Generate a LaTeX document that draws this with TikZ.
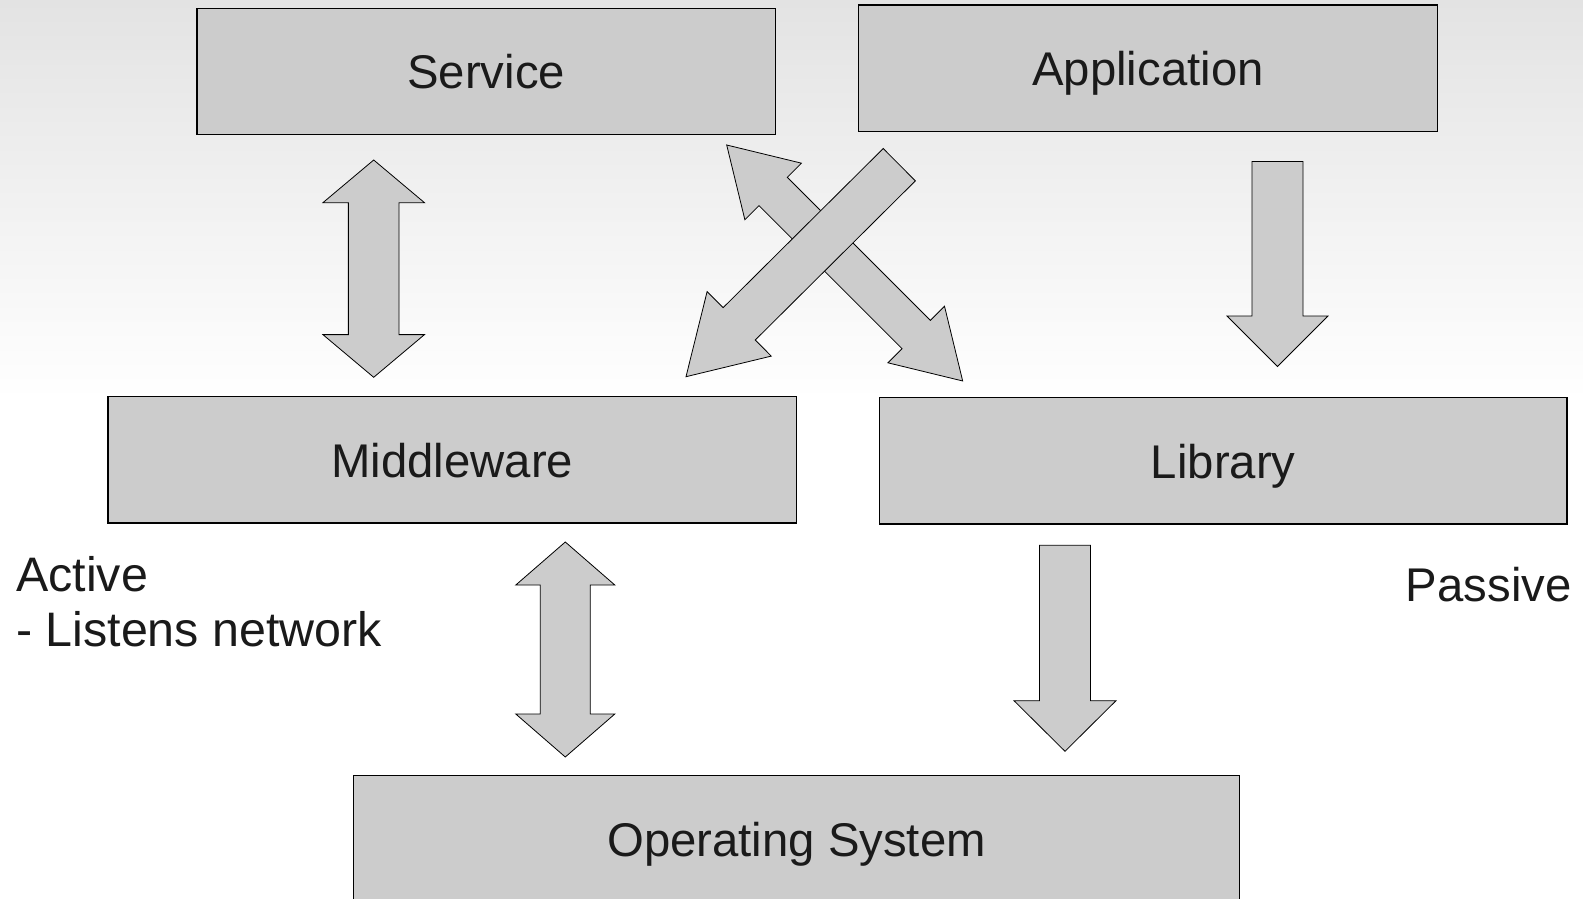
\documentclass[tikz,border=0pt]{standalone}
\usepackage{fontspec}
\setmainfont{Liberation Sans}
\usetikzlibrary{calc}
\definecolor{boxgray}{HTML}{CCCCCC}
\definecolor{inkgray}{HTML}{1A1A1A}
\definecolor{bgtop}{HTML}{E3E3E3}

% length and direction (canvas) from #1 to #2, stored in \barlen / \barang
\newcommand\arrowframe[2]{%
  \path let \p1=($(#2)-(#1)$) in \pgfextra{%
    \pgfmathsetmacro\barlen{veclen(\x1,\y1)}%
    \pgfmathsetmacro\barang{atan2(\y1,\x1)}%
    \global\let\barlen\barlen
    \global\let\barang\barang};}

% block arrow with one head: from, to, shaft width, head width, head length
\newcommand\singlearrow[5]{%
  \arrowframe{#1}{#2}%
  \draw[blockarrow, shift={(#1)}, rotate=\barang, x=1pt, y=1pt]
    (0,#3/2) -- ({\barlen-#5},#3/2) -- ({\barlen-#5},#4/2) -- (\barlen,0)
    -- ({\barlen-#5},-#4/2) -- ({\barlen-#5},-#3/2) -- (0,-#3/2) -- cycle;}

% block arrow with two heads: from, to, shaft width, head width, head length
\newcommand\doublearrow[5]{%
  \arrowframe{#1}{#2}%
  \draw[blockarrow, shift={(#1)}, rotate=\barang, x=1pt, y=1pt]
    (0,0) -- (#5,#4/2) -- (#5,#3/2) -- ({\barlen-#5},#3/2) -- ({\barlen-#5},#4/2)
    -- (\barlen,0) -- ({\barlen-#5},-#4/2) -- ({\barlen-#5},-#3/2)
    -- (#5,-#3/2) -- (#5,-#4/2) -- cycle;}

\begin{document}
\begin{tikzpicture}[x=1pt, y=-1pt,
  every node/.style={font=\fontsize{47.3}{54.3}\selectfont, text=inkgray},
  layerbox/.style={draw=black, line width=1.1pt, fill=boxgray, inner sep=0pt,
    text height=35.2pt, text depth=0pt, minimum height=126.2pt},
  blockarrow/.style={draw=black, line width=0.8pt, fill=boxgray, line join=miter},
  note/.style={inner sep=0pt, anchor=base west, align=left}]

% page and background wash
\fill[white] (0,0) rectangle (1583,899);
\shade[top color=bgtop, bottom color=white] (0,0) rectangle (1583,400);
\useasboundingbox (0,0) rectangle (1583,899);

% layers
\node[layerbox, minimum width=578.5pt] (service)     at (486.2,71.2)  {Service};
\node[layerbox, minimum width=579.5pt] (application) at (1148,68.1)   {Application};
\node[layerbox, minimum width=688.6pt] (middleware)  at (452.3,459.9) {Middleware};
\node[layerbox, minimum width=687.5pt] (library)     at (1223.2,460.9) {Library};
\node[layerbox, minimum width=886.4pt] (os)          at (796.6,839)   {Operating System};

% arrow end points
\coordinate (svc-top)  at (373.7,160);
\coordinate (mid-top)  at (373.7,377.3);
\coordinate (mid-bot)  at (565.3,542);
\coordinate (os-left)  at (565.3,757);
\coordinate (app-bot)  at (1277.5,161.5);
\coordinate (lib-top)  at (1277.5,366.5);
\coordinate (lib-bot)  at (1065,545.3);
\coordinate (os-right) at (1065,751.3);
\coordinate (svc-corner) at (726.7,145);
\coordinate (lib-corner) at (962.7,381);
\coordinate (app-corner) at (899.3,164.7);
\coordinate (mid-corner) at (686,376.7);

% connections between layers
\doublearrow{svc-top}{mid-top}{50.7}{101.6}{42.7}
\doublearrow{mid-bot}{os-left}{50}{99}{43}
\singlearrow{app-bot}{lib-top}{51}{101}{50.5}
\singlearrow{lib-bot}{os-right}{51}{102}{50.6}
\doublearrow{svc-corner}{lib-corner}{40}{80}{65.7}
\singlearrow{app-corner}{mid-corner}{45.6}{91}{75}

% side notes (multi-line node: base anchor sits on the last line)
\node[note, font=\fontsize{48.4}{54.3}\selectfont] (active) at (16,646)
  {Active\\- Listens network};
\node[note] (passive) at (1405.7,601.7) {Passive};
\end{tikzpicture}
\end{document}
